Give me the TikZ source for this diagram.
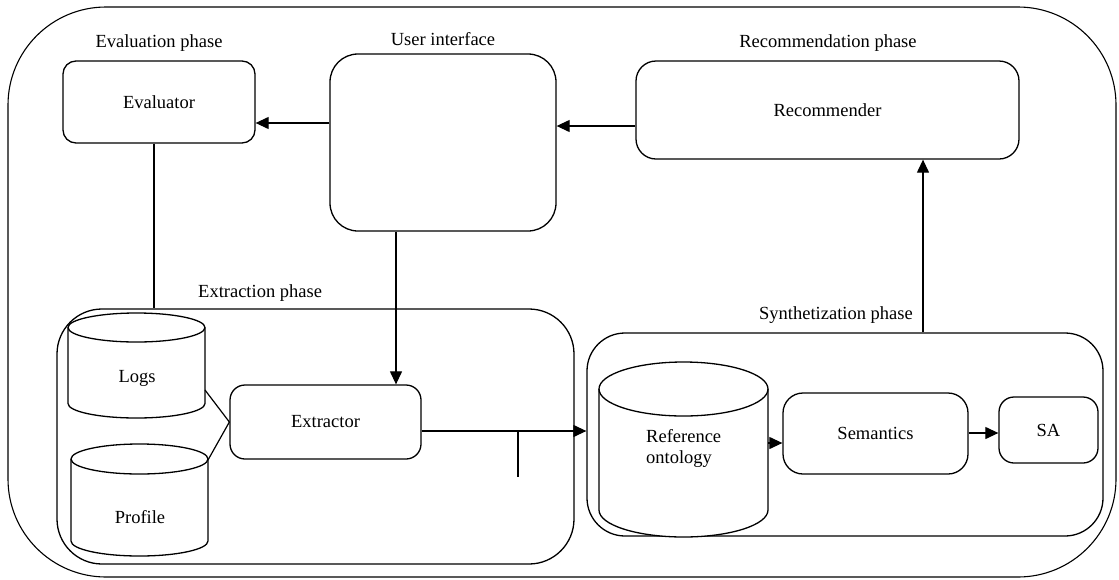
\documentclass[tikz,border=0pt]{standalone}
\usepackage{fontspec}
\setmainfont{Liberation Serif}
\usetikzlibrary{arrows.meta,calc}
\begin{document}
\begin{tikzpicture}[x=1pt,y=-1pt,
  every node/.style={font=\fontsize{18.5}{21}\selectfont, inner sep=0pt},
  box/.style={draw, line width=1.3pt, rounded corners=#1},
  box/.default=15pt,
  ln/.style={line width=1.2pt},
  arr/.style={line width=1.2pt, -{Triangle[length=13pt,width=12pt]}},
  cylline/.style={line width=1.3pt}
]
\useasboundingbox (0,0) rectangle (1119,579);

% outer frame
\draw[line width=1.1pt, rounded corners=98pt] (8,7) rectangle (1116,577);

% group boxes
\node[box=45pt, minimum width=517pt, minimum height=255pt] (ext) at (315.5,436.5) {};
\node[box=38pt, minimum width=516pt, minimum height=203pt] (syn) at (845,434.5) {};

% simple boxes
\node[box=13pt, minimum width=192pt, minimum height=82pt] (ev) at (159,102) {Evaluator};
\node[box=28pt, minimum width=226pt, minimum height=177pt] (ui) at (443,142.5) {};
\node[box=20pt, minimum width=383pt, minimum height=98pt] (rec) at (827.5,110) {Recommender};
\node[box=15pt, minimum width=191pt, minimum height=74pt] (extr) at (325.5,422) {Extractor};
\node[box=20pt, minimum width=185pt, minimum height=81pt] (sem) at (875.5,433.5) {Semantics};
\node[box=15pt, minimum width=99pt, minimum height=66pt] (sa) at (1048.5,430) {SA};

% phase labels
\node (levl) at (159,43) {Evaluation phase};
\node (lui) at (443,39) {User interface};
\node (lrec) at (828,43) {Recommendation phase};
\node[anchor=west] (lext) at (198,293) {Extraction phase};
\node[anchor=east] (lsyn) at (913,315) {Synthetization phase};

% cylinders
% Logs: L=68 R=205 T=313 B=418 ry=14.5
\draw[cylline, fill=white] (68,327.5) -- (68,403.5) arc[start angle=180, end angle=0, x radius=68.5, y radius=14.5] -- (205,327.5);
\draw[cylline] (136.5,327.5) ellipse [x radius=68.5, y radius=14.5];
\node (logs) at (137,378) {Logs};
% Profile: L=71 R=208 T=444 B=556 ry=15
\draw[cylline, fill=white] (71,459) -- (71,541) arc[start angle=180, end angle=0, x radius=68.5, y radius=15] -- (208,459);
\draw[cylline] (139.5,459) ellipse [x radius=68.5, y radius=15];
\node (prof) at (140,517) {Profile};
% Reference ontology: L=599 R=768 T=362 B=537 ry=27
\draw[cylline, fill=white] (599,389) -- (599,510) arc[start angle=180, end angle=0, x radius=84.5, y radius=27] -- (768,389);
\draw[cylline] (683.5,389) ellipse [x radius=84.5, y radius=27];
\node[anchor=west, align=left] (ref) at (646,448) {Reference\\ontology};

% helper coordinates
\coordinate (y123) at (0,123);
\coordinate (y126) at (0,126);
\coordinate (y431) at (0,431);
\coordinate (y443) at (0,443);
\coordinate (y433) at (0,433);
\coordinate (x154) at (154,0);
\coordinate (x396) at (396,0);
\coordinate (x923) at (923,0);
\coordinate (logsR) at (205,390);
\coordinate (profR) at (208,460);
\coordinate (refR) at (768,443);
\coordinate (tickT) at (518,431);
\coordinate (tickB) at (518,477);

% connectors
\draw[arr] (ui.west |- y123) -- (ev.east |- y123);
\draw[arr] (rec.west |- y126) -- (ui.east |- y126);
\draw[arr] (syn.north -| x923) -- (rec.south -| x923);
\draw[ln] (ev.south -| x154) -- (ext.north -| x154);
\draw[arr] (ui.south -| x396) -- (extr.north -| x396);
\draw[arr] (extr.east |- y431) -- (syn.west |- y431);
\draw[ln] (tickT) -- (tickB);
\draw[ln] (logsR) -- (extr.west);
\draw[ln] (profR) -- (extr.west);
\draw[arr] (refR) -- (sem.west |- y443);
\draw[arr] (sem.east |- y433) -- (sa.west |- y433);
\end{tikzpicture}
\end{document}
